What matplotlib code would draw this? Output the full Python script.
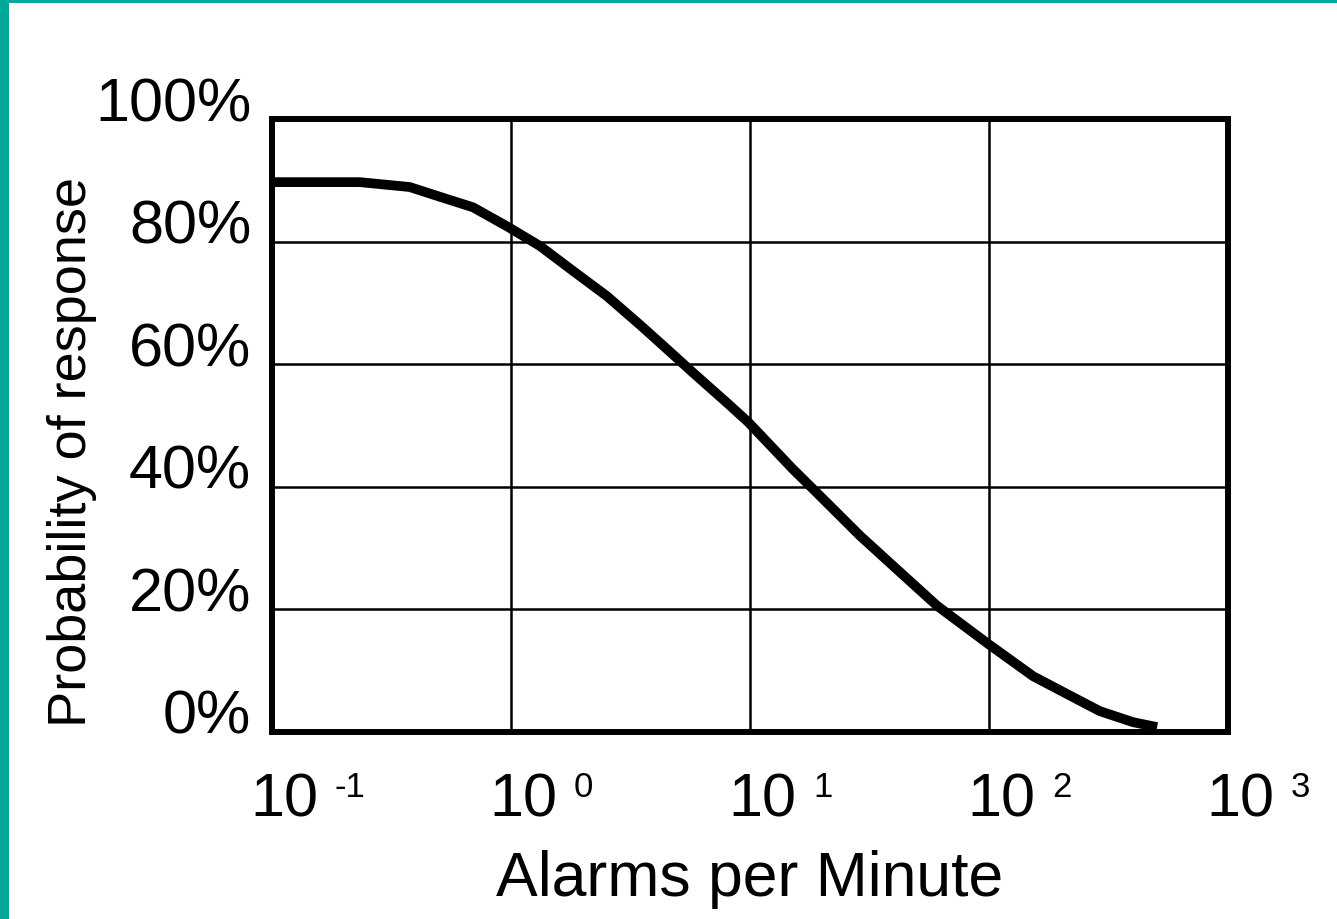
import matplotlib
matplotlib.use("Agg")
import matplotlib.pyplot as plt
from matplotlib.patches import Rectangle
from matplotlib.transforms import ScaledTranslation
from matplotlib.ticker import NullLocator

# ---- data ----
alarms_per_minute = [0.1, 0.159, 0.233, 0.377, 0.505, 0.693, 0.962, 1.32,
                     1.82, 2.52, 3.47, 4.20, 5.78, 8.01, 9.8, 15.1, 18.4,
                     28.9, 39.7, 60.6, 99, 153, 212, 291, 401, 505]
prob_response = [89.7, 89.7, 89.7, 88.9, 87.3, 85.6, 82.5, 79.3,
                 75.2, 71.1, 66.4, 63.5, 58.6, 53.7, 50.6, 42.9, 39.6,
                 32.0, 27.1, 20.6, 14.4, 9.1, 6.2, 3.4, 1.6, 0.8]
x_tick_values = [0.1, 1, 10, 100, 1000]
x_tick_exponents = ["-1", "0", "1", "2", "3"]
y_tick_values = [0, 20, 40, 60, 80, 100]
y_tick_labels = ["0%", "20%", "40%", "60%", "80%", "100%"]
x_label = "Alarms per Minute"
y_label = "Probability of response"

FONT = ["Liberation Sans", "DejaVu Sans"]
plt.rcParams["font.family"] = FONT

W, H = 1337, 920
fig = plt.figure(figsize=(W / 100, H / 100), dpi=100, facecolor="white")

# teal frame strips (left and top)
teal = "#00A99C"
fig.patches.append(Rectangle((0, 0), 9 / W, 1, transform=fig.transFigure,
                             facecolor=teal, edgecolor="none", zorder=-1))
fig.patches.append(Rectangle((0, 1 - 4 / H), 1, 4 / H, transform=fig.transFigure,
                             facecolor=teal, edgecolor="none", zorder=-1))

L, R, T, B = 272, 1228, 120, 733
ax = fig.add_axes([L / W, 1 - B / H, (R - L) / W, (B - T) / H])
ax.set_xscale("log")
ax.set_xlim(0.1, 1000)
ax.set_ylim(0, 100)

ax.plot(alarms_per_minute, prob_response, color="black", lw=7,
        solid_capstyle="butt", solid_joinstyle="round", zorder=3)

for s in ax.spines.values():
    s.set_linewidth(4.3)
    s.set_color("black")

ax.set_xticks(x_tick_values)
ax.xaxis.set_minor_locator(NullLocator())
ax.set_xticklabels([])
ax.set_yticks(y_tick_values)
ax.set_yticklabels(y_tick_labels, fontsize=44)
ax.tick_params(which="both", length=0)
ax.tick_params(axis="y", pad=15)
ax.grid(True, color="black", lw=1.8)
ax.set_axisbelow(True)

off = ScaledTranslation(0, 21 / 100, fig.dpi_scale_trans)
for lab in ax.get_yticklabels():
    lab.set_transform(lab.get_transform() + off)

# x tick labels: "10" with a separate superscript exponent
for v, e in zip(x_tick_values, x_tick_exponents):
    ax.annotate("10", xy=(v, 0), xycoords=("data", "axes fraction"),
                xytext=(-22, -40), textcoords="offset pixels",
                ha="left", va="top", fontsize=44)
    ax.annotate(e, xy=(v, 0), xycoords=("data", "axes fraction"),
                xytext=(63, -38), textcoords="offset pixels",
                ha="left", va="top", fontsize=25)

fig.text(750 / W, 1 - 880 / H, x_label, ha="center", va="center", fontsize=45)
fig.text(72 / W, 1 - 452 / H, y_label, ha="center", va="center",
         rotation=90, fontsize=39)

fig.savefig("out.png", dpi=100, facecolor="white")
